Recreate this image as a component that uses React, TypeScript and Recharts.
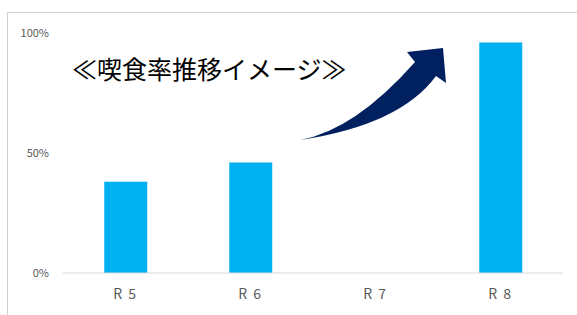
import { Bar, BarChart, XAxis, YAxis } from "recharts";

const categories = ["R 5", "R 6", "R 7", "R 8"];
const rates: (number | null)[] = [0.38, 0.46, null, 0.96];
const yTicks = [0, 0.5, 1];
const title = "≪喫食率推移イメージ≫";

const data = categories.map((name, i) => ({ name, rate: rates[i] }));

const jpFont = '"Noto Sans CJK JP", "Noto Sans", sans-serif';

export default function App() {
  return (
    <div
      style={{
        position: "absolute",
        left: 0,
        top: 0,
        width: 577,
        height: 315,
        overflow: "hidden",
        background: "#fff",
        fontFamily: jpFont,
      }}
    >
      {/* chart frame */}
      <div
        style={{
          position: "absolute",
          left: 7,
          top: 12,
          width: 580,
          height: 320,
          borderTop: "1px solid #d0d0d0",
          borderLeft: "1px solid #d0d0d0",
        }}
      />
      <div style={{ position: "absolute", left: 0, top: 0 }}>
        <BarChart
          width={577}
          height={315}
          data={data}
          margin={{ top: 33, right: 14, bottom: 12, left: 0 }}
          barCategoryGap="33%"
        >
          <XAxis
            dataKey="name"
            height={30}
            axisLine={{ stroke: "#d9d9d9" }}
            tickLine={false}
            tickSize={0}
            tickMargin={16}
            tick={{
              fill: "#595959",
              fontSize: 14,
              fontFamily: jpFont,
              letterSpacing: 1.5,
            }}
          />
          <YAxis
            width={63}
            domain={[0, 1]}
            ticks={yTicks}
            axisLine={false}
            tickLine={false}
            tickSize={0}
            tickMargin={14}
            tickFormatter={(v) => `${Math.round(v * 100)}%`}
            tick={{ fill: "#595959", fontSize: 11, fontFamily: jpFont }}
          />
          <Bar dataKey="rate" fill="#00b0f0" isAnimationActive={false} />
        </BarChart>
      </div>
      {/* title and arrow overlay */}
      <svg
        width={577}
        height={315}
        style={{ position: "absolute", left: 0, top: 0, pointerEvents: "none" }}
      >
        <text x={72} y={79} fontSize={25} fill="#000" fontFamily={jpFont}>
          {title}
        </text>
        <path
          d="M300,140 Q355,130 415,62 L407,52 L443,48 L446,83 L436,76 Q400,125 300,140 Z"
          fill="#002060"
        />
      </svg>
    </div>
  );
}
